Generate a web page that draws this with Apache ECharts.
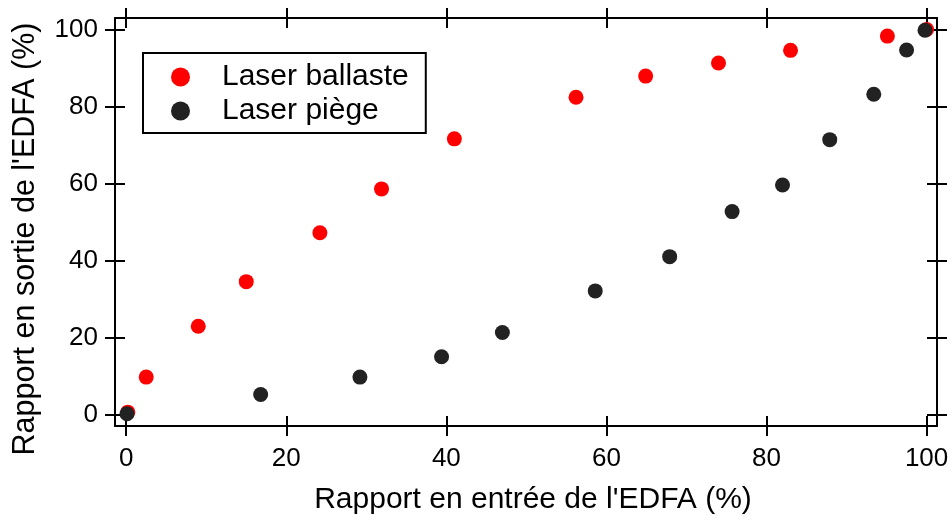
<!DOCTYPE html>
<html>
<head>
<meta charset="utf-8">
<script src="https://cdn.jsdelivr.net/npm/echarts@6/dist/echarts.min.js"></script>
<style>html,body{margin:0;padding:0;background:#fff;}#c{width:952px;height:520px;}</style>
</head>
<body>
<div id="c"></div>
<script>
var seriesNames = ['Laser ballaste', 'Laser piège'];
var ballasteX = [0.2, 2.5, 9.0, 15.0, 24.2, 31.9, 41.0, 56.2, 64.9, 74.0, 83.0, 95.1, 100.0];
var ballasteY = [0.6, 9.7, 22.9, 34.5, 47.2, 58.6, 71.6, 82.4, 87.9, 91.3, 94.6, 98.3, 100.0];
var piegeX = [0.1, 16.8, 29.2, 39.4, 47.0, 58.6, 67.9, 75.7, 82.0, 87.9, 93.4, 97.5, 99.8];
var piegeY = [0.2, 5.2, 9.7, 15.0, 21.3, 32.1, 41.0, 52.7, 59.6, 71.4, 83.2, 94.7, 99.8];
var tickValues = [0, 20, 40, 60, 80, 100];
var xTitle = "Rapport en entrée de l'EDFA (%)";
var yTitle = "Rapport en sortie de l'EDFA (%)";

function pairs(xs, ys) { return xs.map(function (x, i) { return [x, ys[i]]; }); }

var FONT = 'Liberation Sans, Arial, sans-serif';
var X_MIN = -1.4, X_MAX = 101.3, Y_MIN = -3, Y_MAX = 103;

function makeAxis(kind, position, inside, showLine, showLabel, extra) {
  var a = {
    type: 'value',
    position: position,
    min: kind === 'x' ? X_MIN : Y_MIN,
    max: kind === 'x' ? X_MAX : Y_MAX,
    splitLine: { show: false },
    axisLine: { show: showLine, onZero: false, lineStyle: { color: '#000', width: 2 } },
    axisTick: { show: true, inside: inside, length: 10, customValues: tickValues, lineStyle: { color: '#000', width: 2 } },
    axisLabel: { show: showLabel, customValues: tickValues, color: '#000', fontSize: 26, fontFamily: FONT },
    nameMoveOverlap: false
  };
  if (extra) { for (var k in extra) a[k] = extra[k]; }
  return a;
}

var chart = echarts.init(document.getElementById('c'), null, { renderer: 'canvas' });
chart.setOption({
  animation: false,
  backgroundColor: '#fff',
  grid: { left: 115, right: 15, top: 18, bottom: 93, containLabel: false },
  legend: {
    left: 143, top: 53, orient: 'vertical',
    data: seriesNames,
    icon: 'circle', itemWidth: 19, itemHeight: 19, itemGap: 0,
    padding: [7, 17, 5, 28],
    borderColor: '#000', borderWidth: 2, borderRadius: 0,
    backgroundColor: '#fff',
    textStyle: { color: '#000', fontSize: 30, fontFamily: FONT, lineHeight: 34, padding: [0, 0, 0, 27] }
  },
  xAxis: [
    makeAxis('x', 'bottom', false, true, true, {
      name: xTitle, nameLocation: 'middle', nameGap: 59,
      nameTextStyle: { color: '#000', fontSize: 30, fontFamily: FONT, padding: [0, 0, 0, 14] },
      axisLabel: { show: true, customValues: tickValues, color: '#000', fontSize: 26, fontFamily: FONT, margin: 20 }
    }),
    makeAxis('x', 'bottom', true, false, false),
    makeAxis('x', 'top', false, true, false),
    makeAxis('x', 'top', true, false, false)
  ],
  yAxis: [
    makeAxis('y', 'left', false, true, true, {
      name: yTitle, nameLocation: 'middle', nameGap: 74,
      nameTextStyle: { color: '#000', fontSize: 30.5, fontFamily: FONT, padding: [0, 34, 0, 0] },
      axisLabel: { show: true, customValues: tickValues, color: '#000', fontSize: 26, fontFamily: FONT, margin: 17 }
    }),
    makeAxis('y', 'left', true, false, false),
    makeAxis('y', 'right', false, true, false),
    makeAxis('y', 'right', true, false, false)
  ],
  series: [
    { name: seriesNames[0], type: 'scatter', xAxisIndex: 0, yAxisIndex: 0, symbol: 'circle', symbolSize: 15,
      itemStyle: { color: '#ff0000', opacity: 1 }, data: pairs(ballasteX, ballasteY), z: 2 },
    { name: seriesNames[1], type: 'scatter', xAxisIndex: 0, yAxisIndex: 0, symbol: 'circle', symbolSize: 15,
      itemStyle: { color: '#222222', opacity: 1 }, data: pairs(piegeX, piegeY), z: 3 }
  ]
});
</script>
</body>
</html>
